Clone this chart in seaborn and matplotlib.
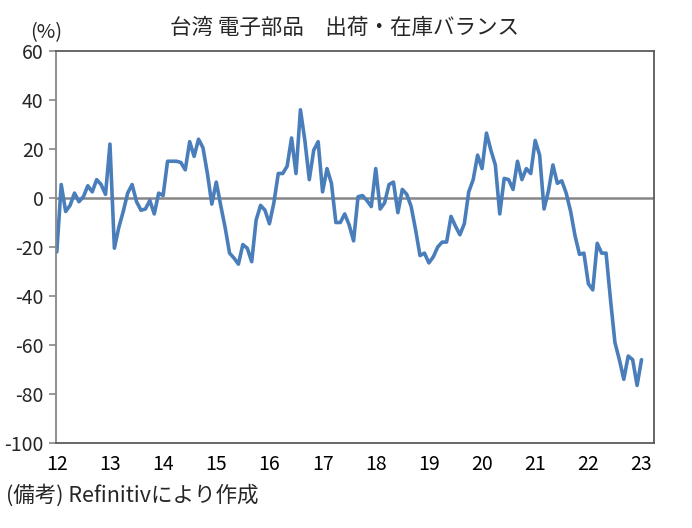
import matplotlib
matplotlib.use("Agg")
import matplotlib.pyplot as plt
import numpy as np
import pandas as pd
import seaborn as sns

# monthly shipment-inventory balance (%), Jan 2012 - Jan 2023
values_2012 = [-22, 5.5, -5.5, -3, 2, -1.5, 0.5, 5, 2.5, 7.5, 5.5, 1.5]
values_2013 = [22, -20.5, -12, -5.5, 2, 5.5, -1.5, -5, -4.5, -1, -6.5, 2]
values_2014 = [1, 15, 15, 15, 14.5, 11.5, 23, 17, 24, 20.5, 10, -2.5]
values_2015 = [6.5, -3, -12, -22.5, -24.5, -27, -19, -20.5, -26, -9, -3, -5]
values_2016 = [-10.5, -2, 10, 10, 13, 24.5, 10, 36, 23.5, 7.5, 19.5, 23]
values_2017 = [2.5, 12, 6, -10, -10, -6.5, -11, -17.5, 0.5, 1, -1, -3.5]
values_2018 = [12, -4.5, -2, 5.5, 6.5, -6, 3.5, 1.5, -3.5, -13, -23.5, -22.5]
values_2019 = [-26.5, -24, -20, -18, -18, -7.5, -11.5, -15, -10.5, 2.5, 7.5, 17.5]
values_2020 = [12, 26.5, 19.5, 13.5, -6.5, 8, 7.5, 3.5, 15, 7.5, 12, 10]
values_2021 = [23.5, 17.5, -4.5, 3, 13.5, 6, 7, 2, -5.5, -15.5, -23, -22.5]
values_2022 = [-35, -37.5, -18.5, -22.5, -22.5, -41.5, -59, -66, -74, -64.5, -66, -76.5]
values_2023 = [-66]

year_labels = ["12", "13", "14", "15", "16", "17", "18", "19", "20", "21", "22", "23"]
y_ticks = [-100, -80, -60, -40, -20, 0, 20, 40, 60]

balance = (values_2012 + values_2013 + values_2014 + values_2015 + values_2016
           + values_2017 + values_2018 + values_2019 + values_2020 + values_2021
           + values_2022 + values_2023)
dates = pd.date_range("2012-01-01", periods=len(balance), freq="MS")
df = pd.DataFrame({"year": dates.year + (dates.month - 1) / 12, "balance": balance})

sns.set_theme(style="white")
plt.rcParams["font.family"] = ["Noto Sans CJK JP", "DejaVu Sans"]
plt.rcParams["axes.unicode_minus"] = False

fig = plt.figure(figsize=(6.92, 5.28), dpi=100)
ax = fig.add_axes([56 / 692, 1 - 443 / 528, (654 - 56) / 692, (443 - 51) / 528])

ax.axhline(0, color="#878787", linewidth=1.8, zorder=1)
sns.lineplot(data=df, x="year", y="balance", ax=ax, color="#4a7ebb", linewidth=2.6, zorder=2)

ax.set_xlim(2011.985, 2023.235)
ax.set_ylim(-100, 60)
ax.set_xticks(np.arange(2012, 2024))
ax.set_xticklabels(year_labels)
ax.set_yticks(y_ticks)
ax.set_xlabel("")
ax.set_ylabel("")

ax.tick_params(axis="x", length=0, pad=8, labelsize=14, colors="black")
ax.tick_params(axis="y", length=5, width=1.2, color="#878787", pad=4, labelsize=14, left=True)
for side, spine in ax.spines.items():
    spine.set_visible(True)
    spine.set_linewidth(1.3)
    spine.set_color("#5a5a5a")
ax.spines["left"].set_color("#878787")

fig.text(345 / 692, 1 - 28 / 528, "台湾 電子部品\u3000出荷・在庫バランス",
         ha="center", va="center", fontsize=15.5)
fig.text(46 / 692, 1 - 33 / 528, "(%)", ha="center", va="center", fontsize=14.5)
fig.text(6 / 692, 1 - 495 / 528, "(備考) Refinitivにより作成",
         ha="left", va="center", fontsize=15.5)

fig.savefig("out.png", dpi=100)
